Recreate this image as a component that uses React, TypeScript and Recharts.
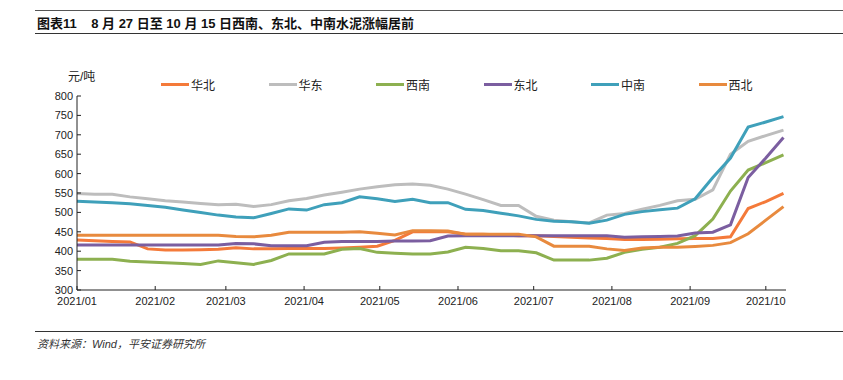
import { LineChart, Line, XAxis, YAxis } from "recharts";

// weekly observations (Fridays)
const DATES = [
  "2021-01-01", "2021-01-08", "2021-01-15", "2021-01-22", "2021-01-29",
  "2021-02-05", "2021-02-12", "2021-02-19", "2021-02-26",
  "2021-03-05", "2021-03-12", "2021-03-19", "2021-03-26",
  "2021-04-02", "2021-04-09", "2021-04-16", "2021-04-23", "2021-04-30",
  "2021-05-07", "2021-05-14", "2021-05-21", "2021-05-28",
  "2021-06-04", "2021-06-11", "2021-06-18", "2021-06-25",
  "2021-07-02", "2021-07-09", "2021-07-16", "2021-07-23", "2021-07-30",
  "2021-08-06", "2021-08-13", "2021-08-20", "2021-08-27",
  "2021-09-03", "2021-09-10", "2021-09-17", "2021-09-24",
  "2021-10-01", "2021-10-08",
];

const HUABEI = [429, 427, 425, 424, 406, 403, 403, 404, 405, 409, 406, 406, 407, 407, 407, 408, 410, 413, 428, 450, 450, 450, 444, 444, 442, 440, 440, 438, 436, 434, 433, 430, 430, 431, 432, 433, 433, 437, 510, 528, 549];
const HUADONG = [549, 547, 547, 540, 535, 530, 527, 523, 520, 521, 515, 520, 530, 536, 545, 552, 560, 566, 571, 573, 570, 560, 547, 533, 518, 518, 490, 480, 476, 473, 493, 497, 508, 518, 530, 534, 558, 650, 683, 698, 712];
const XINAN = [379, 379, 379, 374, 372, 370, 368, 366, 375, 370, 366, 376, 393, 393, 393, 405, 407, 397, 395, 393, 393, 398, 410, 407, 401, 401, 396, 377, 377, 377, 382, 397, 405, 410, 420, 440, 483, 555, 609, 628, 648];
const DONGBEI = [416, 416, 416, 416, 416, 416, 416, 416, 416, 420, 419, 414, 414, 414, 423, 425, 425, 425, 426, 426, 427, 439, 440, 440, 440, 440, 440, 440, 440, 440, 440, 436, 437, 438, 439, 447, 449, 468, 590, 640, 693];
const ZHONGNAN = [529, 527, 525, 522, 518, 513, 506, 500, 493, 488, 486, 497, 509, 506, 520, 525, 540, 535, 528, 534, 525, 525, 508, 505, 498, 491, 482, 477, 476, 472, 480, 495, 502, 507, 511, 535, 590, 640, 720, 733, 747];
const XIBEI = [441, 441, 441, 441, 441, 441, 441, 441, 441, 438, 437, 441, 449, 449, 449, 449, 450, 446, 442, 453, 453, 452, 444, 444, 444, 444, 437, 413, 413, 413, 406, 402, 408, 410, 410, 412, 415, 422, 445, 480, 515];

const SERIES = [
  { key: "huabei", name: "华北", color: "#F47A3A", values: HUABEI },
  { key: "huadong", name: "华东", color: "#BDBDBD", values: HUADONG },
  { key: "xinan", name: "西南", color: "#8DB050", values: XINAN },
  { key: "dongbei", name: "东北", color: "#7B5EA0", values: DONGBEI },
  { key: "zhongnan", name: "中南", color: "#3FA0BA", values: ZHONGNAN },
  { key: "xibei", name: "西北", color: "#E88A3E", values: XIBEI },
];

const MONTH_TICKS = [
  "2021-01-01", "2021-02-01", "2021-03-01", "2021-04-01", "2021-05-01",
  "2021-06-01", "2021-07-01", "2021-08-01", "2021-09-01", "2021-10-01",
];
const Y_TICKS = [300, 350, 400, 450, 500, 550, 600, 650, 700, 750, 800];

const T0 = Date.UTC(2021, 0, 1);
const dayOf = (s: string) => (Date.parse(s + "T00:00:00Z") - T0) / 86400000;
const labelOf = (day: number) => {
  const dt = new Date(T0 + day * 86400000);
  return `${dt.getUTCFullYear()}/${String(dt.getUTCMonth() + 1).padStart(2, "0")}`;
};

const data = DATES.map((d, i) => {
  const row: any = { d: dayOf(d) };
  SERIES.forEach((s) => (row[s.key] = s.values[i]));
  return row;
});

const NUM_FONT = "'Liberation Sans', Arial, sans-serif";
const CJK_FONT = "'Liberation Sans', 'Noto Sans CJK SC', sans-serif";

function LegendRow() {
  return (
    <div style={{ position: "absolute", left: 161, top: 76, display: "flex", fontFamily: CJK_FONT, fontSize: 12, color: "#222" }}>
      {SERIES.map((s) => (
        <div key={s.key} style={{ width: 107.5, display: "flex", alignItems: "center" }}>
          <span style={{ display: "inline-block", width: 28, height: 3, background: s.color, marginRight: 2 }} />
          <span>{s.name}</span>
        </div>
      ))}
    </div>
  );
}

export default function App() {
  const tickStyle = { fontSize: 11, fill: "#222", fontFamily: NUM_FONT };
  return (
    <div style={{ position: "fixed", left: 0, top: 0, width: 843, height: 380, background: "#fff", overflow: "hidden" }}>
      <div style={{ position: "absolute", left: 35, right: 0, top: 10, borderTop: "1px solid #555" }} />
      <div style={{ position: "absolute", left: 37, top: 13, fontFamily: CJK_FONT, fontSize: 13, fontWeight: "bold", color: "#111", whiteSpace: "pre" }}>
        {"图表11    8 月 27 日至 10 月 15 日西南、东北、中南水泥涨幅居前"}
      </div>
      <div style={{ position: "absolute", left: 35, right: 0, top: 33, borderTop: "1px solid #333" }} />

      <div style={{ position: "absolute", left: 0, top: 0 }}>
        <LineChart width={843} height={380} data={data} margin={{ top: 96, right: 57, bottom: 60, left: 27 }}>
          <XAxis
            dataKey="d"
            type="number"
            domain={[0, 281]}
            ticks={MONTH_TICKS.map(dayOf)}
            tickFormatter={labelOf}
            interval={0}
            height={30}
            tickSize={-4}
            tickMargin={11}
            stroke="#222"
            tick={tickStyle}
          />
          <YAxis
            domain={[300, 800]}
            ticks={Y_TICKS}
            interval={0}
            width={50}
            tickSize={-4}
            tickMargin={8}
            stroke="#222"
            tick={tickStyle}
          />
          {SERIES.map((s) => (
            <Line
              key={s.key}
              dataKey={s.key}
              name={s.name}
              stroke={s.color}
              strokeWidth={3}
              dot={false}
              type="linear"
              isAnimationActive={false}
            />
          ))}
        </LineChart>
      </div>

      <div style={{ position: "absolute", left: 68, top: 67, fontFamily: CJK_FONT, fontSize: 12, color: "#222" }}>元/吨</div>
      <LegendRow />

      <div style={{ position: "absolute", left: 35, right: 0, top: 331, borderTop: "1px solid #333" }} />
      <div style={{ position: "absolute", left: 37, top: 335, fontFamily: CJK_FONT, fontSize: 11, fontStyle: "italic", color: "#333" }}>
        资料来源：Wind，平安证券研究所
      </div>
    </div>
  );
}
